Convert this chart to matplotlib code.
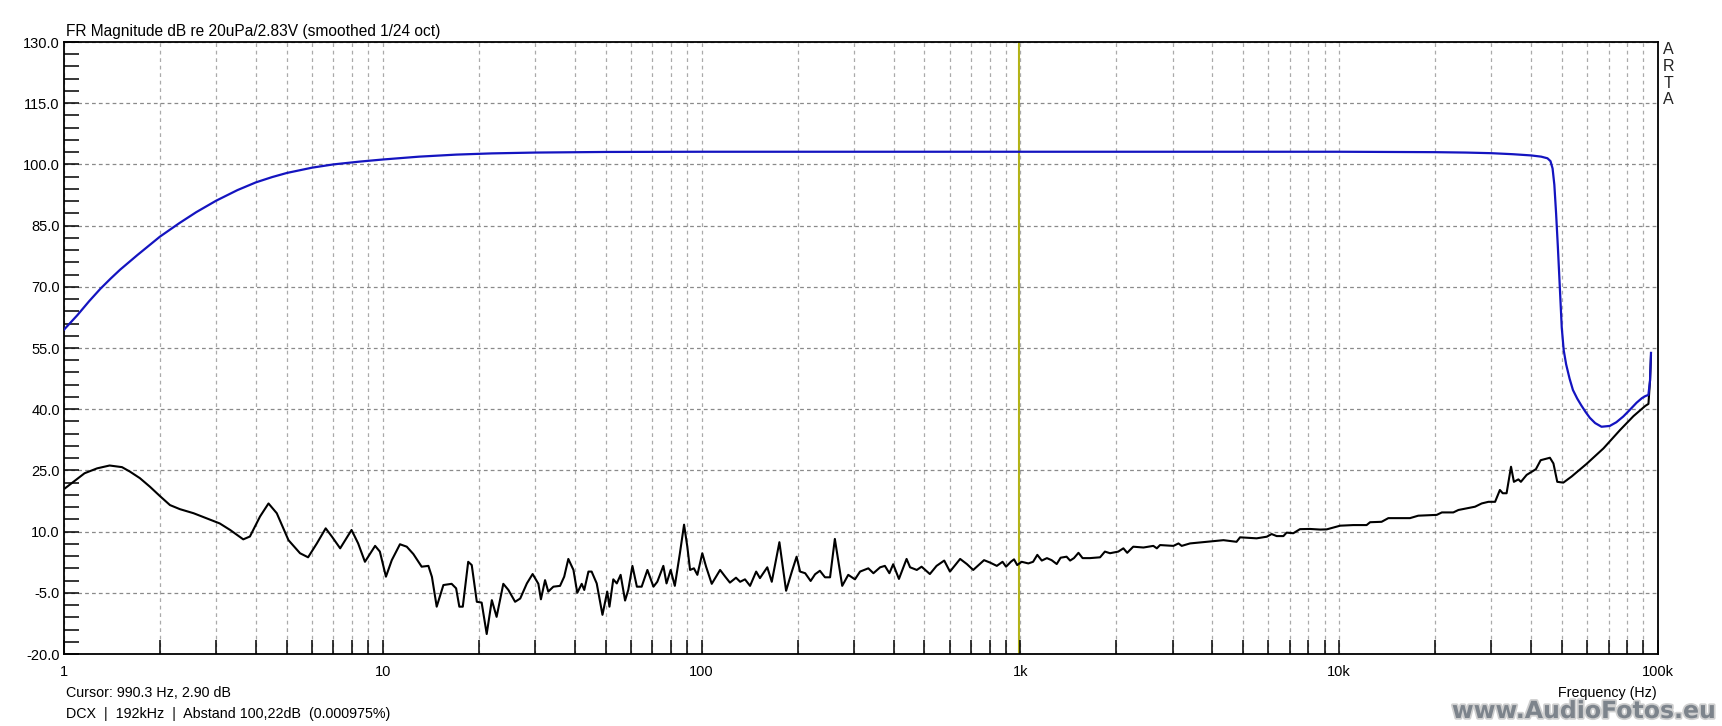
import numpy as np
import matplotlib.pyplot as plt
from matplotlib.ticker import FixedLocator, FixedFormatter
import matplotlib.patheffects as pe

plt.rcParams['font.family'] = ['Liberation Sans', 'DejaVu Sans']

# --- data ---
# blue: frequency response (Hz, dB)
fr_freq = [1.0, 1.1, 1.2, 1.3, 1.4, 1.5, 1.7, 2.0, 2.3, 2.6, 3.0, 3.5, 4.0,
           4.5, 5.0, 6.0, 7.0, 8.5, 10, 13, 17, 22, 30, 50, 100, 1000, 10000,
           20000, 25000, 30000, 35000, 40000, 43000, 45000, 46000, 46700,
           47300, 47900, 48500, 49200, 49900, 50600, 51500, 52800, 54100,
           55800, 57500, 59300, 61100, 63500, 66500, 70600, 74000, 77800,
           81500, 85700, 89000, 91200, 93300, 94400, 95060]
fr_db = [59.5, 63.0, 66.5, 69.5, 72.0, 74.2, 77.8, 82.3, 85.6, 88.3, 91.1,
         93.7, 95.6, 96.9, 97.9, 99.2, 100.0, 100.7, 101.2, 101.9, 102.4,
         102.7, 102.9, 103.05, 103.1, 103.1, 103.1, 103.0, 102.9, 102.75,
         102.5, 102.2, 101.9, 101.5, 100.8, 99.0, 95.0, 88.0, 80.0, 70.0,
         60.0, 54.5, 51.0, 47.5, 44.7, 42.6, 40.9, 39.3, 37.9, 36.6, 35.7,
         35.9, 36.8, 38.2, 39.8, 41.6, 42.7, 43.2, 43.5, 47.0, 53.8]

# black: noise / distortion floor (Hz, dB)
nf_freq = [1.007, 1.07, 1.16, 1.27, 1.39, 1.52, 1.61, 1.73, 1.86, 2.0, 2.15,
           2.31, 2.55, 2.81, 3.08, 3.32, 3.65, 3.83, 4.12, 4.38, 4.65, 5.06,
           5.50, 5.83, 6.21, 6.62, 6.92, 7.35, 7.98, 8.37, 8.79, 9.46, 9.79,
           10.23, 10.67, 11.32, 11.89, 12.47, 13.24, 13.90, 14.26, 14.76, 15.49,
           16.44, 16.98, 17.38, 17.82, 18.53, 19.01, 19.72, 20.42, 21.18, 21.98,
           22.75, 23.88, 24.77, 26.0, 26.98, 28.31, 29.51, 30.76, 31.33, 32.28,
           33.04, 34.28, 35.97, 37.07, 38.19, 39.63, 40.74, 42.07, 42.85, 44.16,
           45.19, 46.88, 48.87, 50.58, 51.40, 52.84, 54.20, 55.72, 57.54, 58.88,
           60.67, 62.66, 64.86, 67.61, 70.63, 72.61, 75.86, 77.62, 79.98, 82.41,
           85.5, 88.1, 90.2, 92.0, 94.6, 97.0, 100.5, 103.3, 107.6, 114.3,
           118.6, 122.7, 128.2, 132.1, 136.8, 141.9, 148.3, 152.4, 160.7, 166.0,
           175.4, 184.1, 191.9, 198.6, 203.7, 211.3, 219.8, 227.0, 235.0, 243.8,
           252.9, 261.8, 276.1, 288.4, 302.7, 314.1, 333.4, 345.9, 363.1, 375.8,
           388.2, 399.0, 415.9, 439.5, 450.8, 473.2, 489.8, 520.0, 545.8, 576.8,
           601.2, 647.1, 679.2, 711.2, 769.1, 803.5, 843.3, 879.0, 901.6, 933.3,
           955.0, 977.2, 1009, 1059, 1096, 1130, 1167, 1211, 1253, 1300, 1337,
           1396, 1432, 1472, 1521, 1567, 1652, 1778, 1841, 1910, 2028, 2104,
           2163, 2259, 2432, 2612, 2679, 2742, 3020, 3133, 3206, 3404, 3837,
           4335, 4764, 4887, 5508, 5929, 6138, 6368, 6683, 6839, 7178, 7534,
           8091, 8710, 9141, 10070, 11070, 12190, 12500, 13580, 14260, 16670,
           17700, 20230, 20990, 22800, 23660, 25120, 26670, 27990, 29380, 30830,
           31920, 32580, 33500, 34590, 35320, 36480, 37150, 38730, 41400, 42850,
           45810, 46990, 48310, 50470, 53580, 59700, 67450, 76030, 83750, 91200,
           93330, 94400, 95060]
nf_db = [20.6, 22.2, 24.3, 25.5, 26.2, 25.8, 24.7, 23.1, 21.0, 18.7, 16.5,
         15.5, 14.5, 13.2, 12.0, 10.4, 8.1, 8.8, 13.7, 16.9, 14.5, 7.9,
         4.7, 3.7, 7.1, 10.8, 8.8, 5.9, 10.4, 7.1, 2.6, 6.5, 5.1,
         -1.05, 3.0, 6.9, 6.3, 4.5, 1.4, 1.6, -1.1, -8.4, -3.1,
         -2.8, -3.9, -8.4, -8.4, 2.6, 1.8, -7.2, -7.4, -15.1, -6.8,
         -10.9, -2.8, -4.3, -7.2, -6.4, -2.7, -0.4, -2.8, -6.6, -1.9,
         -4.7, -3.5, -3.3, -1.05, 3.3, 0.6, -5.0, -2.8, -4.3, 0.2,
         0.2, -2.7, -10.4, -4.7, -8.4, -1.7, -2.7, -0.6, -6.9, -4.3,
         1.6, -3.5, -3.5, 0.6, -3.5, -2.3, 1.6, -2.7, 0.6, -3.3,
         4.7, 11.7, 6.3, 0.6, 1.0, -0.6, 4.7, 1.4, -2.8, 0.6,
         -1.05, -2.5, -1.3, -2.3, -1.7, -3.3, 0.2, -1.4, 1.25, -2.3,
         7.4, -4.5, 0.2, 3.85, 0.2, -0.2, -2.1, -0.45, 0.4, -1.2,
         -1.2, 8.2, -3.3, -0.6, -1.7, 0.2, 1.0, -0.2, 1.25, 1.6,
         -0.2, 2.0, -1.6, 3.3, 1.25, 0.6, 1.4, -0.4, 1.6, 2.9,
         0.2, 3.3, 2.05, 0.6, 3.0, 2.4, 1.6, 2.6, 1.4, 2.6,
         3.2, 1.8, 2.6, 2.2, 2.6, 4.3, 2.9, 3.5, 3.0, 2.05, 3.6,
         3.85, 2.9, 3.5, 4.8, 3.5, 3.5, 3.7, 5.1, 4.7, 5.1, 5.9,
         4.8, 6.3, 6.1, 6.5, 5.9, 6.7, 6.5, 7.1, 6.5, 7.1, 7.5,
         7.9, 7.5, 8.6, 8.35, 8.75, 9.4, 8.9, 8.9, 9.75, 9.6, 10.6,
         10.65, 10.5, 10.55, 11.45, 11.6, 11.6, 12.3, 12.4, 13.3, 13.3,
         13.9, 14.1, 14.7, 14.7, 15.3, 15.7, 16.1, 16.9, 17.3, 17.3,
         20.2, 19.4, 19.4, 25.9, 22.2, 22.8, 22.2, 23.9, 25.3, 27.5,
         28.1, 26.7, 22.2, 22.0, 23.5, 26.6, 30.4, 34.9, 38.3, 40.8,
         41.3, 47.0, 53.0]

cursor_freq = 990.3

x_major = [1, 10, 100, 1000, 10000, 100000]
x_labels = ['1', '10', '100', '1k', '10k', '100k']
y_major = [-20, -5, 10, 25, 40, 55, 70, 85, 100, 115, 130]
y_labels = ['-20.0', '-5.0', '10.0', '25.0', '40.0', '55.0', '70.0', '85.0',
            '100.0', '115.0', '130.0']

W, H = 1722, 726
fig = plt.figure(figsize=(W / 100, H / 100), dpi=100)
ax = fig.add_axes([64 / W, 1 - 654 / H, (1658 - 64) / W, (654 - 42) / H])

ax.set_xscale('log')
ax.set_xlim(1, 1e5)
ax.set_ylim(-20, 130)

x_minor = [m * d for d in x_major[:-1] for m in range(2, 10)]
ax.xaxis.set_major_locator(FixedLocator(x_major))
ax.xaxis.set_major_formatter(FixedFormatter(x_labels))
ax.xaxis.set_minor_locator(FixedLocator(x_minor))
ax.xaxis.set_minor_formatter(FixedFormatter([]))
ax.yaxis.set_major_locator(FixedLocator(y_major))
ax.yaxis.set_major_formatter(FixedFormatter(y_labels))
ax.yaxis.set_minor_locator(FixedLocator(list(range(-20, 131, 3))))

ax.tick_params(which='both', direction='in', length=10.8, width=1.1,
               color='black', top=False, right=False)
ax.tick_params(axis='x', which='both', length=10.0)
ax.tick_params(axis='x', which='major', pad=8, labelsize=10.5)
ax.tick_params(axis='y', pad=3, labelsize=10.5)

ax.grid(True, axis='x', which='both', color='#aaaaaa', linestyle=(0, (3, 3)), lw=0.9)
ax.grid(True, axis='y', which='major', color='#8a8a8a', linestyle=(0, (3, 2.5)), lw=0.9)
for s in ax.spines.values():
    s.set_linewidth(1.3)

# cursor marker, then the two traces
ax.axvline(cursor_freq, color='#b4b414', lw=1.5, zorder=1.5)
ax.plot(nf_freq, nf_db, color='black', lw=1.5, zorder=3)
ax.plot(fr_freq, fr_db, color='#1414c0', lw=1.6, zorder=4)

fig.text(66 / W, 1 - 36 / H, 'FR Magnitude dB re 20uPa/2.83V (smoothed 1/24 oct)',
         fontsize=11.2, ha='left', va='baseline')
for i, ch in enumerate('ARTA'):
    fig.text(1668 / W, 1 - (50 + i * 16.5) / H, ch, fontsize=11.5,
             ha='center', va='center', color='#222222')

fig.text(1657 / W, 1 - 693 / H, 'Frequency (Hz)', fontsize=10.3, ha='right', va='center')
fig.text(66 / W, 1 - 693 / H, 'Cursor: 990.3 Hz, 2.90 dB', fontsize=10.3,
         ha='left', va='center')
fig.text(66 / W, 1 - 714 / H, 'DCX  |  192kHz  |  Abstand 100,22dB  (0.000975%)',
         fontsize=10.3, ha='left', va='center')

wm = fig.text(1716 / W, 1 - 718 / H, 'www.AudioFotos.eu', fontsize=17,
              fontweight='bold', family='DejaVu Sans', color='#7d848c',
              ha='right', va='baseline')
wm.set_path_effects([pe.withStroke(linewidth=2.5, foreground='#d0d0d0')])

fig.savefig('out.png', dpi=100)
